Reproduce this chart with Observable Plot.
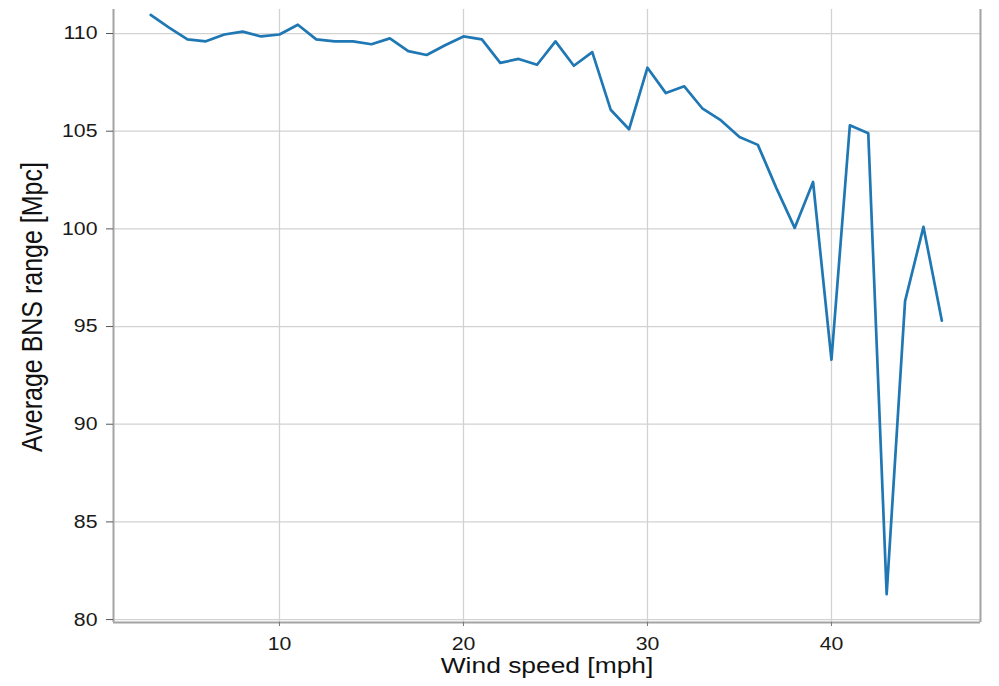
<!DOCTYPE html>
<html>
<head>
<meta charset="utf-8">
<script src="https://cdn.jsdelivr.net/npm/d3@7"></script>
<script src="https://cdn.jsdelivr.net/npm/@observablehq/plot@0.6"></script>
<style>
  html, body { margin: 0; padding: 0; background: #fff; }
  #chart svg { display: block; }
</style>
</head>
<body>
<div id="chart"></div>
<script>
const windSpeed = [3,4,5,6,7,8,9,10,11,12,13,14,15,16,17,18,19,20,21,22,23,24,25,26,27,28,29,30,31,32,33,34,35,36,37,38,39,40,41,42,43,44,45,46];
const bnsRange = [110.95,110.3,109.7,109.6,109.95,110.1,109.85,109.95,110.45,109.7,109.6,109.6,109.45,109.75,109.1,108.9,109.4,109.85,109.7,108.5,108.7,108.4,109.6,108.35,109.05,106.1,105.1,108.25,106.95,107.3,106.15,105.55,104.7,104.3,102.1,100.05,102.4,93.3,105.3,104.9,81.3,96.3,100.1,95.3];
const xTicks = [10, 20, 30, 40];
const yTicks = [80, 85, 90, 95, 100, 105, 110];
const xDomain = [0.98, 48.1];
const yDomain = [79.85, 111.23];
const xLabel = "Wind speed [mph]";
const yLabel = "Average BNS range [Mpc]";

const data = windSpeed.map((w, i) => ({w, r: bnsRange[i]}));

const chart = Plot.plot({
  width: 999,
  height: 686,
  marginLeft: 113,
  marginRight: 19,
  marginTop: 9,
  marginBottom: 64,
  style: {fontFamily: "'Liberation Sans', Arial, Helvetica, sans-serif", background: "#fff", color: "#222"},
  x: {domain: xDomain},
  y: {domain: yDomain},
  marks: [
    Plot.gridX(xTicks, {stroke: "#d2d2d2", strokeOpacity: 1, strokeWidth: 1.3}),
    Plot.gridY(yTicks, {stroke: "#d2d2d2", strokeOpacity: 1, strokeWidth: 1.3}),
    Plot.ruleX([xDomain[0], xDomain[1]], {stroke: "#a3a3a3", strokeWidth: 2}),
    Plot.ruleY([yDomain[0]], {stroke: "#a3a3a3", strokeWidth: 2}),
    Plot.axisX(xTicks, {tickSize: 4, tickPadding: 10, fontSize: 18.5, label: null, stroke: "#777", fill: "#1a1a1a"}),
    Plot.axisY(yTicks, {tickSize: 7, tickPadding: 9, fontSize: 18.5, label: null, stroke: "#555", fill: "#1a1a1a"}),
    Plot.line(data, {x: "w", y: "r", stroke: "#1f77b4", strokeWidth: 2.7}),
    Plot.text([xLabel], {frameAnchor: "bottom", textAnchor: "middle", dy: 50, fontSize: 22, fill: "#111"}),
    Plot.text([yLabel], {frameAnchor: "left", textAnchor: "middle", rotate: -90, dx: -81, dy: -9, fontSize: 25, fill: "#111"})
  ]
});
document.getElementById("chart").appendChild(chart);

// widen glyphs horizontally to mimic the wider original typeface
chart.querySelectorAll("text").forEach(t => {
  const s = t.textContent;
  const tr = t.getAttribute("transform") || "";
  if (s === xLabel) t.setAttribute("transform", tr + " scale(1.2,1)");
  else if (s === yLabel) t.setAttribute("transform", tr + " scale(1,1.2)");
  else if (/^\d+$/.test(s)) t.setAttribute("transform", tr + " scale(1.15,1)");
});
</script>
</body>
</html>
